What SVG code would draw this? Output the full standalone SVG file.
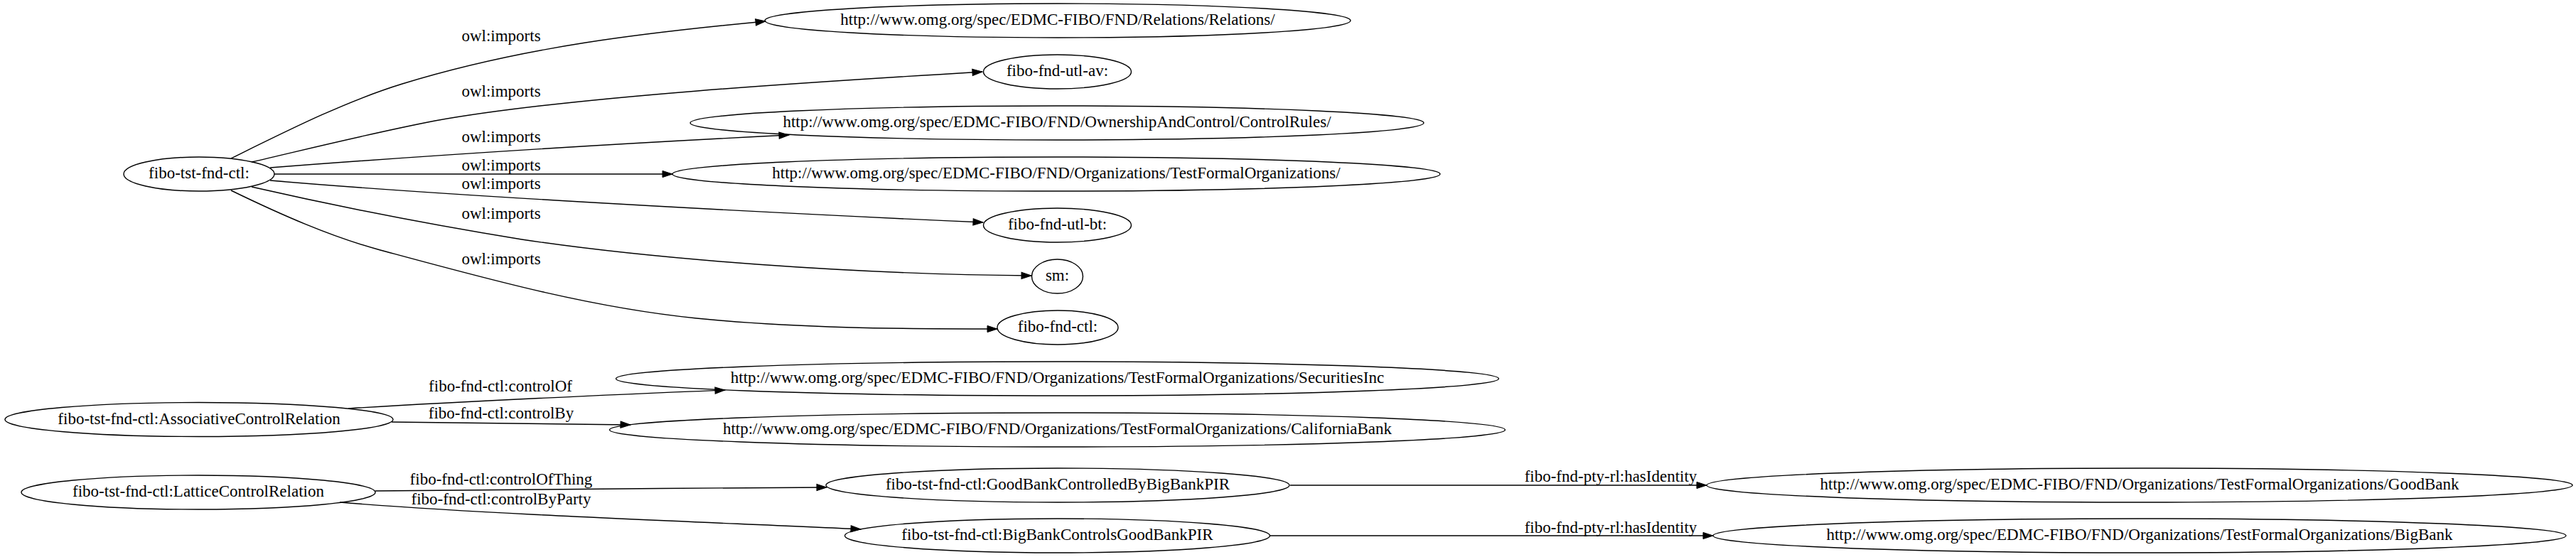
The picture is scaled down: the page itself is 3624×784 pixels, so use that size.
<svg xmlns="http://www.w3.org/2000/svg" width="3624" height="784" viewBox="0 0 3624 784">
<style>
.n ellipse{fill:none;stroke:#000;stroke-width:1.4}
text{font-family:"Liberation Serif","Times New Roman",serif;font-size:23px;fill:#000;text-anchor:middle}
.e path{fill:none;stroke:#000;stroke-width:1.4;marker-end:url(#ah)}
</style>
<defs>
<marker id="ah" markerUnits="userSpaceOnUse" markerWidth="16" markerHeight="12" refX="14" refY="4.6" orient="auto" overflow="visible">
<path d="M0,0 L14,4.6 L0,9.2 Z" fill="#000" stroke="#000" stroke-width="1"/>
</marker>
</defs>
<rect x="0" y="0" width="3624" height="784" fill="#fff"/>
<g id="edges" class="e">
<path d="M325,223 C405,183.5 486,142.6 566,118 C737,65.5 908,46 1077,30"/>
<path d="M354,228 C440,208 526,186.6 612,170 C800,136 1150,115 1382,101"/>
<path d="M380,236 C600,219 850,203 1110,190"/>
<path d="M386,245 L946,245"/>
<path d="M380,254 C600,273 1000,296 1383,313"/>
<path d="M354,263 C481,292 607,316.4 734,337 C920,365 1200,386 1451,388"/>
<path d="M325,268 C395,302 465,333 535,352 C683,392 830,433 980,448 C1120,462 1260,463 1403,463"/>
<path d="M490,575 C650,565 850,556 1020,549"/>
<path d="M551,594 C700,595 800,596 887,598"/>
<path d="M528,691 C750,689 950,687 1163,686"/>
<path d="M478,707 C700,725 1000,735 1211,745"/>
<path d="M1815,683 L2401,683"/>
<path d="M1786,754 L2410,754"/>
<text x="705" y="58">owl:imports</text>
<text x="705" y="136">owl:imports</text>
<text x="705" y="200">owl:imports</text>
<text x="705" y="240">owl:imports</text>
<text x="705" y="266">owl:imports</text>
<text x="705" y="308">owl:imports</text>
<text x="705" y="372">owl:imports</text>
<text x="704" y="551">fibo-fnd-ctl:controlOf</text>
<text x="705" y="589">fibo-fnd-ctl:controlBy</text>
<text x="705" y="682">fibo-fnd-ctl:controlOfThing</text>
<text x="705" y="710">fibo-fnd-ctl:controlByParty</text>
<text x="2266" y="678">fibo-fnd-pty-rl:hasIdentity</text>
<text x="2266" y="750">fibo-fnd-pty-rl:hasIdentity</text>
</g>
<g id="n1" class="n"><ellipse cx="280" cy="245" rx="106" ry="24"/><text x="280" y="251">fibo-tst-fnd-ctl:</text></g>
<g id="n2" class="n"><ellipse cx="1488" cy="29" rx="412" ry="24"/><text x="1488" y="35">http://www.omg.org/spec/EDMC-FIBO/FND/Relations/Relations/</text></g>
<g id="n3" class="n"><ellipse cx="1487.5" cy="101" rx="104" ry="24"/><text x="1487.5" y="107">fibo-fnd-utl-av:</text></g>
<g id="n4" class="n"><ellipse cx="1487" cy="173" rx="516" ry="24"/><text x="1487" y="179">http://www.omg.org/spec/EDMC-FIBO/FND/OwnershipAndControl/ControlRules/</text></g>
<g id="n5" class="n"><ellipse cx="1486" cy="245" rx="540" ry="24"/><text x="1486" y="251">http://www.omg.org/spec/EDMC-FIBO/FND/Organizations/TestFormalOrganizations/</text></g>
<g id="n6" class="n"><ellipse cx="1487.5" cy="317" rx="104" ry="24"/><text x="1487.5" y="323">fibo-fnd-utl-bt:</text></g>
<g id="n7" class="n"><ellipse cx="1487.5" cy="389" rx="36" ry="24"/><text x="1487.5" y="395">sm:</text></g>
<g id="n8" class="n"><ellipse cx="1488" cy="461" rx="85" ry="24"/><text x="1488" y="467">fibo-fnd-ctl:</text></g>
<g id="n9" class="n"><ellipse cx="280" cy="590.5" rx="273" ry="24"/><text x="280" y="596.5">fibo-tst-fnd-ctl:AssociativeControlRelation</text></g>
<g id="n10" class="n"><ellipse cx="1487.5" cy="533" rx="621" ry="24"/><text x="1487.5" y="539">http://www.omg.org/spec/EDMC-FIBO/FND/Organizations/TestFormalOrganizations/SecuritiesInc</text></g>
<g id="n11" class="n"><ellipse cx="1487.5" cy="605" rx="630" ry="24"/><text x="1487.5" y="611">http://www.omg.org/spec/EDMC-FIBO/FND/Organizations/TestFormalOrganizations/CaliforniaBank</text></g>
<g id="n12" class="n"><ellipse cx="279" cy="693" rx="249" ry="24"/><text x="279" y="699">fibo-tst-fnd-ctl:LatticeControlRelation</text></g>
<g id="n13" class="n"><ellipse cx="1488" cy="683" rx="326" ry="24"/><text x="1488" y="689">fibo-tst-fnd-ctl:GoodBankControlledByBigBankPIR</text></g>
<g id="n14" class="n"><ellipse cx="1487.5" cy="754" rx="299" ry="24"/><text x="1487.5" y="760">fibo-tst-fnd-ctl:BigBankControlsGoodBankPIR</text></g>
<g id="n15" class="n"><ellipse cx="3010" cy="683" rx="609" ry="24"/><text x="3010" y="689">http://www.omg.org/spec/EDMC-FIBO/FND/Organizations/TestFormalOrganizations/GoodBank</text></g>
<g id="n16" class="n"><ellipse cx="3010" cy="754" rx="600" ry="24"/><text x="3010" y="760">http://www.omg.org/spec/EDMC-FIBO/FND/Organizations/TestFormalOrganizations/BigBank</text></g>
</svg>
